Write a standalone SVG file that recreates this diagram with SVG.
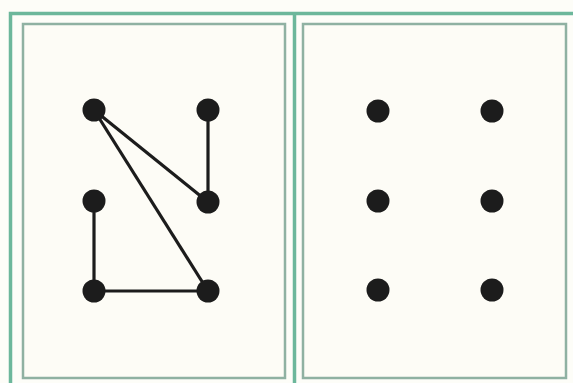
<svg xmlns="http://www.w3.org/2000/svg" width="573" height="383" viewBox="0 0 573 383">
<style>
.outer{stroke:#6cb79b;stroke-width:3.5;fill:none}
.inner{stroke:#8fb1a2;stroke-width:2.5;fill:#fdfcf6}
.dot{fill:#1c1c1c}
.edge{stroke:#1c1c1c;stroke-width:3.2;fill:none}
</style>
<rect x="0" y="0" width="573" height="383" fill="#fdfdf8"/>
<g id="frame">
<path class="outer" d="M573 13.5 H10.5 V383"/>
<path class="outer" d="M294.5 13.5 V383"/>
<rect class="inner" x="23" y="24" width="262" height="354"/>
<rect class="inner" x="303" y="24" width="263" height="354"/>
</g>
<g id="connectors">
<line class="edge" x1="94" y1="110" x2="208" y2="202"/>
<line class="edge" x1="94" y1="110" x2="208" y2="291"/>
<line class="edge" x1="208" y1="110" x2="208" y2="202"/>
<line class="edge" x1="94" y1="201" x2="94" y2="291"/>
<line class="edge" x1="94" y1="291" x2="208" y2="291"/>
</g>
<g id="left-dots">
<circle id="a1" class="dot" cx="94" cy="110" r="11.5"/>
<circle id="a2" class="dot" cx="208" cy="110" r="11.5"/>
<circle id="a3" class="dot" cx="94" cy="201" r="11.5"/>
<circle id="a4" class="dot" cx="208" cy="202" r="11.5"/>
<circle id="a5" class="dot" cx="94" cy="291" r="11.5"/>
<circle id="a6" class="dot" cx="208" cy="291" r="11.5"/>
</g>
<g id="right-dots">
<circle id="b1" class="dot" cx="378" cy="111" r="11.5"/>
<circle id="b2" class="dot" cx="492" cy="111" r="11.5"/>
<circle id="b3" class="dot" cx="378" cy="201" r="11.5"/>
<circle id="b4" class="dot" cx="492" cy="201" r="11.5"/>
<circle id="b5" class="dot" cx="378" cy="290" r="11.5"/>
<circle id="b6" class="dot" cx="492" cy="290" r="11.5"/>
</g>
</svg>
